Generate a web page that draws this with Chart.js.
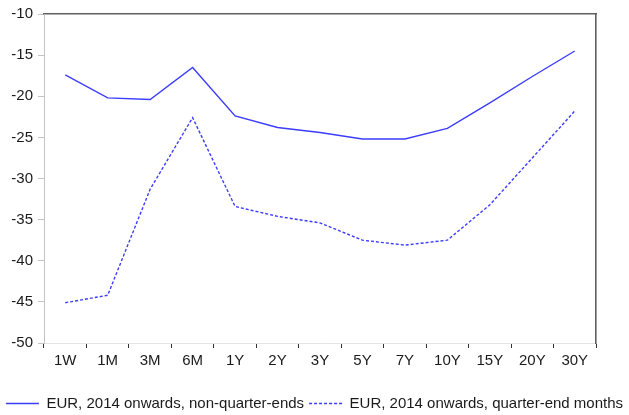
<!DOCTYPE html>
<html>
<head>
<meta charset="utf-8">
<script src="https://cdn.jsdelivr.net/npm/chart.js@4"></script>
<style>
    html, body { margin: 0; padding: 0; background: #ffffff; }
    #wrap { width: 629px; height: 415px; }
</style>
</head>
<body>
<div id="wrap"><canvas id="chart" width="629" height="415"></canvas></div>
<script>
// ---- Data ----
const tenors = ['1W', '1M', '3M', '6M', '1Y', '2Y', '3Y', '5Y', '7Y', '10Y', '15Y', '20Y', '30Y'];
const nonQuarterEnds = [-17.4, -20.2, -20.4, -16.5, -22.4, -23.8, -24.4, -25.2, -25.2, -23.9, -20.8, -17.6, -14.5];
const quarterEndMonths = [-45.1, -44.2, -31.3, -22.6, -33.4, -34.6, -35.4, -37.5, -38.1, -37.5, -33.2, -27.5, -21.8];
const seriesNames = ['EUR, 2014 onwards, non-quarter-ends', 'EUR, 2014 onwards, quarter-end months'];
const yMin = -50;
const yMax = -10;
const yStep = 5;

const lineColor = '#3c3cff';
const frameColor = '#606060';
const font = { family: '"Liberation Sans", Arial, sans-serif', size: 15 };

Chart.defaults.font.family = font.family;
Chart.defaults.color = '#1a1a1a';

const ctx = document.getElementById('chart').getContext('2d');
new Chart(ctx, {
    type: 'line',
    data: {
        labels: tenors,
        datasets: [{
            label: seriesNames[0],
            data: nonQuarterEnds,
            borderColor: lineColor,
            borderWidth: 1.4,
            pointRadius: 0,
            tension: 0,
            xAxisID: 'x',
            yAxisID: 'y'
        }, {
            label: seriesNames[1],
            data: quarterEndMonths,
            borderColor: lineColor,
            borderWidth: 1.4,
            borderDash: [3, 2],
            pointRadius: 0,
            tension: 0,
            xAxisID: 'x',
            yAxisID: 'y'
        }]
    },
    options: {
        responsive: false,
        animation: false,
        layout: { padding: { left: 0, right: 0, top: 0, bottom: -6 } },
        scales: {
            x: {
                position: 'bottom',
                offset: true,
                grid: {
                    offset: true,
                    drawOnChartArea: false,
                    tickLength: 5,
                    color: '#333333'
                },
                border: { color: '#e4e4e4', width: 1 },
                ticks: { font: font, padding: 4, maxRotation: 0, autoSkip: false },
                afterFit: function (scale) { scale.height = 48; }
            },
            xTop: {
                type: 'linear',
                position: 'top',
                min: 0,
                max: 1,
                grid: { drawOnChartArea: false, drawTicks: false },
                border: { color: frameColor, width: 1.6 },
                ticks: { display: false },
                afterFit: function (scale) { scale.height = 12; }
            },
            y: {
                position: 'left',
                min: yMin,
                max: yMax,
                ticks: { stepSize: yStep, font: font, padding: 5 },
                grid: { drawOnChartArea: false, tickLength: 6, color: '#c4c4c4' },
                border: { color: '#c4c4c4', width: 1 },
                afterFit: function (scale) { scale.width = 44; }
            },
            yRight: {
                position: 'right',
                min: yMin,
                max: yMax,
                grid: { drawOnChartArea: false, drawTicks: false },
                border: { color: frameColor, width: 1.6 },
                ticks: { display: false },
                afterFit: function (scale) { scale.width = 33; }
            }
        },
        plugins: {
            legend: {
                position: 'bottom',
                labels: {
                    font: font,
                    color: '#1a1a1a',
                    usePointStyle: true,
                    pointStyle: 'line',
                    pointStyleWidth: 33,
                    padding: 5,
                    // point-style items lose the dash, so copy it from the dataset
                    generateLabels: function (chart) {
                        const items = Chart.defaults.plugins.legend.labels.generateLabels(chart);
                        items.forEach(function (item) {
                            const ds = chart.data.datasets[item.datasetIndex];
                            item.lineDash = ds.borderDash || [];
                            item.strokeStyle = ds.borderColor;
                            item.lineWidth = ds.borderWidth;
                        });
                        return items;
                    }
                }
            },
            tooltip: { enabled: false }
        }
    }
});
</script>
</body>
</html>
